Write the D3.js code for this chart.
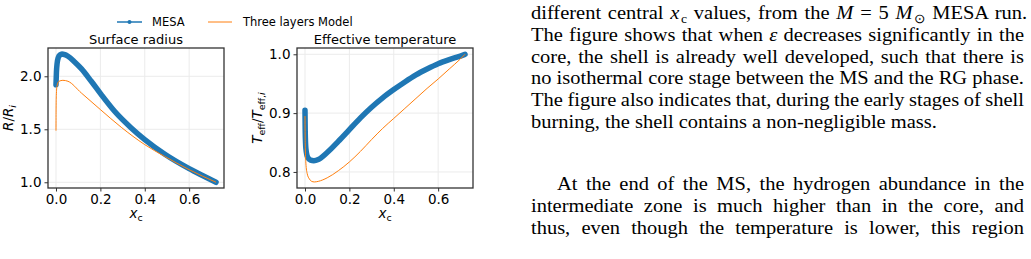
<!DOCTYPE html>
<html>
<head>
<meta charset="utf-8">
<script src="https://cdn.jsdelivr.net/npm/d3@7"></script>
<style>
body { margin: 0; background: #fff; }
</style>
</head>
<body>
<script>
// values
var xTicks = [0.0, 0.2, 0.4, 0.6];
var rTicks = [1.0, 1.5, 2.0];
var tTicks = [0.8, 0.9, 1.0];

// surface radius panel
var xcMesaR = [0, 0.002, 0.005, 0.01, 0.018, 0.027, 0.04, 0.054, 0.084, 0.114, 0.159, 0.204, 0.264, 0.339, 0.4, 0.489, 0.6, 0.66, 0.721];
var rMesa   = [1.92, 2.04, 2.12, 2.175, 2.203, 2.211, 2.204, 2.189, 2.135, 2.072, 1.953, 1.827, 1.670, 1.513, 1.403, 1.267, 1.129, 1.064, 1.0];
var xcModelR = [0, 0.0005, 0.0015, 0.0045, 0.0135, 0.031, 0.054, 0.114, 0.2, 0.294, 0.4, 0.489, 0.6, 0.66, 0.721];
var rModel   = [1.487, 1.70, 1.82, 1.906, 1.953, 1.962, 1.953, 1.843, 1.686, 1.519, 1.355, 1.245, 1.119, 1.058, 1.0];

// effective temperature panel
var xcMesaT = [0, 0.001, 0.004, 0.012, 0.025, 0.04, 0.06, 0.1, 0.15, 0.2, 0.25, 0.3, 0.35, 0.4, 0.45, 0.5, 0.55, 0.6, 0.65, 0.7, 0.721];
var tMesa   = [0.905, 0.87, 0.84, 0.825, 0.82, 0.819, 0.821, 0.833, 0.852, 0.872, 0.892, 0.91, 0.926, 0.94, 0.953, 0.965, 0.975, 0.984, 0.991, 0.997, 1.0];
var xcModelT = [0, 0.001, 0.004, 0.01, 0.02, 0.03, 0.042, 0.06, 0.1, 0.15, 0.2, 0.25, 0.3, 0.35, 0.4, 0.45, 0.5, 0.55, 0.6, 0.65, 0.7, 0.721];
var tModel   = [0.895, 0.85, 0.815, 0.797, 0.788, 0.784, 0.783, 0.784, 0.79, 0.802, 0.817, 0.835, 0.855, 0.874, 0.891, 0.908, 0.925, 0.942, 0.958, 0.975, 0.992, 1.0];

var seriesNames = ['MESA', 'Three layers Model'];
var panelTitles = ['Surface radius', 'Effective temperature'];

var blue = '#1f77b4', orange = '#ff7f0e';
var sans = 'DejaVu Sans, sans-serif';

var W = 1031, H = 259;
var svg = d3.select('body').append('svg')
    .attr('width', W)
    .attr('height', H)
    .style('display', 'block');

function zip(a, b) { return a.map(function(v, i) { return [v, b[i]]; }); }

function panel(left, yDomain, yTicks, mesa, model, title) {
    var top = 48, w = 176, h = 140;
    var x = d3.scaleLinear().domain([-0.036, 0.757]).range([left, left + w]);
    var y = d3.scaleLinear().domain(yDomain).range([top + h, top]);
    var g = svg.append('g');

    // grid
    g.selectAll('.gx').data(xTicks).enter().append('line')
        .attr('x1', function(d) { return x(d); }).attr('x2', function(d) { return x(d); })
        .attr('y1', top).attr('y2', top + h)
        .style('stroke', '#ebebeb').style('stroke-width', 1);
    g.selectAll('.gy').data(yTicks).enter().append('line')
        .attr('y1', function(d) { return y(d); }).attr('y2', function(d) { return y(d); })
        .attr('x1', left).attr('x2', left + w)
        .style('stroke', '#ebebeb').style('stroke-width', 1);

    var line = d3.line()
        .x(function(d) { return x(d[0]); })
        .y(function(d) { return y(d[1]); })
        .curve(d3.curveMonotoneX);

    g.append('path').attr('d', line(mesa))
        .style('fill', 'none').style('stroke', blue)
        .style('stroke-width', 5.5).style('stroke-linecap', 'round').style('stroke-linejoin', 'round');
    g.append('path').attr('d', line(model))
        .style('fill', 'none').style('stroke', orange).style('stroke-width', 1);

    // axes
    var ax = g.append('g').attr('transform', 'translate(0,' + (top + h) + ')')
        .call(d3.axisBottom(x).tickValues(xTicks).tickFormat(d3.format('.1f')).tickSize(3.5).tickPadding(3));
    var ay = g.append('g').attr('transform', 'translate(' + left + ',0)')
        .call(d3.axisLeft(y).tickValues(yTicks).tickFormat(d3.format('.1f')).tickSize(3.5).tickPadding(3));
    [ax, ay].forEach(function(a) {
        a.select('.domain').remove();
        a.selectAll('line').style('stroke', '#333').style('stroke-width', 1);
        a.selectAll('text').style('font-family', sans).style('font-size', '13.5px').style('fill', '#000');
    });

    g.append('rect')
        .attr('x', left).attr('y', top).attr('width', w).attr('height', h)
        .style('fill', 'none').style('stroke', '#333').style('stroke-width', 1.3);

    g.append('text')
        .attr('x', left + w / 2).attr('y', 44)
        .attr('text-anchor', 'middle')
        .style('font-family', sans).style('font-size', '13px')
        .text(title);

    // x label, x_c
    var xl = g.append('text')
        .attr('x', left + w / 2).attr('y', 218)
        .attr('text-anchor', 'middle')
        .style('font-family', sans).style('font-size', '13.5px');
    xl.append('tspan').style('font-style', 'italic').text('x');
    xl.append('tspan').attr('dy', 3).style('font-size', '9.5px').text('c');

    return g;
}

var g1 = panel(48, [0.946, 2.267], rTicks, zip(xcMesaR, rMesa), zip(xcModelR, rModel), panelTitles[0]);
var g2 = panel(297, [0.7727, 1.0107], tTicks, zip(xcMesaT, tMesa), zip(xcModelT, tModel), panelTitles[1]);

// y labels
var yl1 = g1.append('text')
    .attr('transform', 'translate(13,118) rotate(-90)')
    .attr('text-anchor', 'middle')
    .style('font-family', sans).style('font-size', '13.5px');
yl1.append('tspan').style('font-style', 'italic').text('R');
yl1.append('tspan').text('/');
yl1.append('tspan').style('font-style', 'italic').text('R');
yl1.append('tspan').attr('dy', 3).style('font-style', 'italic').style('font-size', '9.5px').text('i');

var yl2 = g2.append('text')
    .attr('transform', 'translate(262,118) rotate(-90)')
    .attr('text-anchor', 'middle')
    .style('font-family', sans).style('font-size', '13.5px');
yl2.append('tspan').style('font-style', 'italic').text('T');
yl2.append('tspan').attr('dy', 3).style('font-size', '9.5px').text('eff');
yl2.append('tspan').attr('dy', -3).text('/');
yl2.append('tspan').style('font-style', 'italic').text('T');
yl2.append('tspan').attr('dy', 3).style('font-size', '9.5px').text('eff,');
yl2.append('tspan').style('font-size', '9.5px').style('font-style', 'italic').text('i');

// legend
var leg = svg.append('g').attr('transform', 'translate(0,22)');
leg.append('line').attr('x1', 117).attr('x2', 142).attr('y1', 0).attr('y2', 0)
    .style('stroke', blue).style('stroke-width', 1.5);
leg.append('circle').attr('cx', 129.5).attr('cy', 0).attr('r', 2).style('fill', blue);
leg.append('line').attr('x1', 208).attr('x2', 232).attr('y1', 0).attr('y2', 0)
    .style('stroke', orange).style('stroke-width', 1);
leg.selectAll('.lt').data(seriesNames).enter().append('text')
    .attr('x', function(d, i) { return i ? 243 : 152; })
    .attr('y', 4)
    .style('font-family', sans).style('font-size', '11.5px')
    .text(function(d) { return d; });

// paper text column on the right
var serif = 'Liberation Serif, Times New Roman, serif';
var sx = 1.05;
var paraLines = [
    {y: 19, x: 531, w: 493, parts: [['different central '], ['x', 'i'], ['c', 'sub'], [' values, from the '], ['M', 'i'], [' = 5 '], ['M', 'i'], ['\u2299', 'sub'], [' MESA run.']]},
    {y: 40.8, x: 531, w: 493, parts: [['The figure shows that when '], ['\u03b5', 'i'], [' decreases significantly in the']]},
    {y: 62.6, x: 531, w: 493, parts: [['core, the shell is already well developed, such that there is']]},
    {y: 84.4, x: 531, w: 493, parts: [['no isothermal core stage between the MS and the RG phase.']]},
    {y: 106.2, x: 531, w: 493, parts: [['The figure also indicates that, during the early stages of shell']]},
    {y: 128, x: 531, w: 0, parts: [['burning, the shell contains a non-negligible mass.']]},
    {y: 190, x: 557, w: 467, parts: [['At the end of the MS, the hydrogen abundance in the']]},
    {y: 211.8, x: 531, w: 493, parts: [['intermediate zone is much higher than in the core, and']]},
    {y: 233.6, x: 531, w: 493, parts: [['thus, even though the temperature is lower, this region']]}
];

var txt = svg.append('g');
paraLines.forEach(function(L) {
    var t = txt.append('text')
        .attr('transform', 'translate(' + L.x + ',' + L.y + ') scale(' + sx + ',1)')
        .style('font-family', serif).style('font-size', '19.5px').style('fill', '#000');
    var shifted = false;
    L.parts.forEach(function(p) {
        var s = t.append('tspan').text(p[0]);
        if (p[1] === 'i') s.style('font-style', 'italic');
        if (p[1] === 'sub') { s.attr('dx', 1.5).attr('dy', 4).style('font-size', '13px'); shifted = true; }
        else if (shifted) { s.attr('dy', -4); shifted = false; }
    });
    if (L.w) {
        var spaces = t.text().split(' ').length - 1;
        var natural = t.node().getComputedTextLength();
        t.attr('word-spacing', (L.w / sx - natural) / spaces);
    }
});
</script>
</body>
</html>
